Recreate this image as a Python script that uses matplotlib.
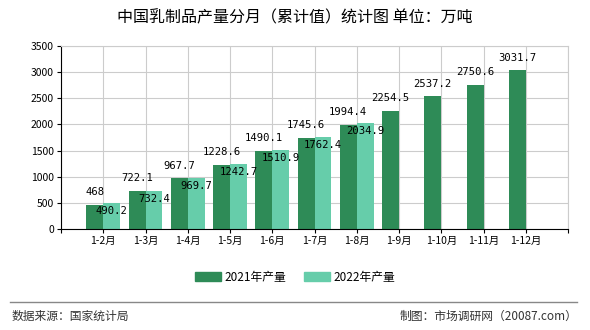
import matplotlib
matplotlib.use("Agg")
import matplotlib.pyplot as plt
import matplotlib.patches as mpatches
import numpy as np

plt.rcParams['font.family'] = ['Noto Sans CJK SC', 'DejaVu Sans']

months = ["1-2月", "1-3月", "1-4月", "1-5月", "1-6月", "1-7月", "1-8月",
          "1-9月", "1-10月", "1-11月", "1-12月"]
val_2021 = [468, 722.1, 967.7, 1228.6, 1490.1, 1745.6, 1994.4,
            2254.5, 2537.2, 2750.6, 3031.7]
val_2022 = [490.2, 732.4, 969.7, 1242.7, 1510.9, 1762.4, 2034.9]
lbl_2021 = ["468", "722.1", "967.7", "1228.6", "1490.1", "1745.6", "1994.4",
            "2254.5", "2537.2", "2750.6", "3031.7"]
lbl_2022 = ["490.2", "732.4", "969.7", "1242.7", "1510.9", "1762.4", "2034.9"]

c21 = "#2e8b57"
c22 = "#66cdaa"

fig = plt.figure(figsize=(5.9, 3.3), dpi=100)
ax = fig.add_axes([61 / 590, 1 - 229 / 330, 507 / 590, 183 / 330])

x21 = np.arange(1, len(val_2021) + 1)
x22 = np.arange(1, len(val_2022) + 1)
w = 0.4
ax.bar(x21 - w / 2, val_2021, width=w, color=c21, zorder=2)
ax.bar(x22 + w / 2, val_2022, width=w, color=c22, zorder=2)

# Beschriftungen: 2021 über dem Balken, 2022 knapp unter der Oberkante
for x, v, t in zip(x21, val_2021, lbl_2021):
    ax.text(x - w / 2, v + 245, t, ha="center", va="center",
            fontsize=7.6, family="DejaVu Sans Mono", zorder=3)
for x, v, t in zip(x22, val_2022, lbl_2022):
    ax.text(x + w / 2, v - 155, t, ha="center", va="center",
            fontsize=7.6, family="DejaVu Sans Mono", zorder=3)

ax.set_xlim(0, 12)
ax.set_ylim(0, 3500)
ax.set_yticks(range(0, 3501, 500))
ax.set_xticks(range(0, 13))
ax.set_xticklabels([""] + months + [""], fontsize=7.5)
ax.tick_params(axis="y", labelsize=7.5, length=3, pad=2)
ax.tick_params(axis="x", length=3, pad=2)
ax.grid(True, color="#cccccc", linewidth=0.8, zorder=0)
for s in ["top", "right"]:
    ax.spines[s].set_color("#cccccc")
ax.spines["left"].set_color("black")
ax.spines["bottom"].set_color("black")

fig.text(0.5, 1 - 18 / 330, "中国乳制品产量分月（累计值）统计图 单位：万吨",
         ha="center", va="center", fontsize=11.5)

handles = [mpatches.Patch(color=c21, label="2021年产量"),
           mpatches.Patch(color=c22, label="2022年产量")]
fig.legend(handles=handles, loc="center", bbox_to_anchor=(0.5, 1 - 277 / 330),
           ncol=2, frameon=False, fontsize=8.5, handlelength=2.2, handleheight=0.7,
           columnspacing=1.5, handletextpad=0.3)

fig.add_artist(plt.Line2D([10 / 590, 577 / 590], [1 - 302 / 330, 1 - 302 / 330],
                          color="#888888", linewidth=1))
fig.text(12 / 590, 1 - 316 / 330, "数据来源：国家统计局", ha="left", va="center",
         fontsize=8.5, color="#333333")
fig.text(577 / 590, 1 - 316 / 330, "制图：市场调研网（20087.com）", ha="right",
         va="center", fontsize=8.5, color="#333333")

fig.savefig("out.png", dpi=100)
